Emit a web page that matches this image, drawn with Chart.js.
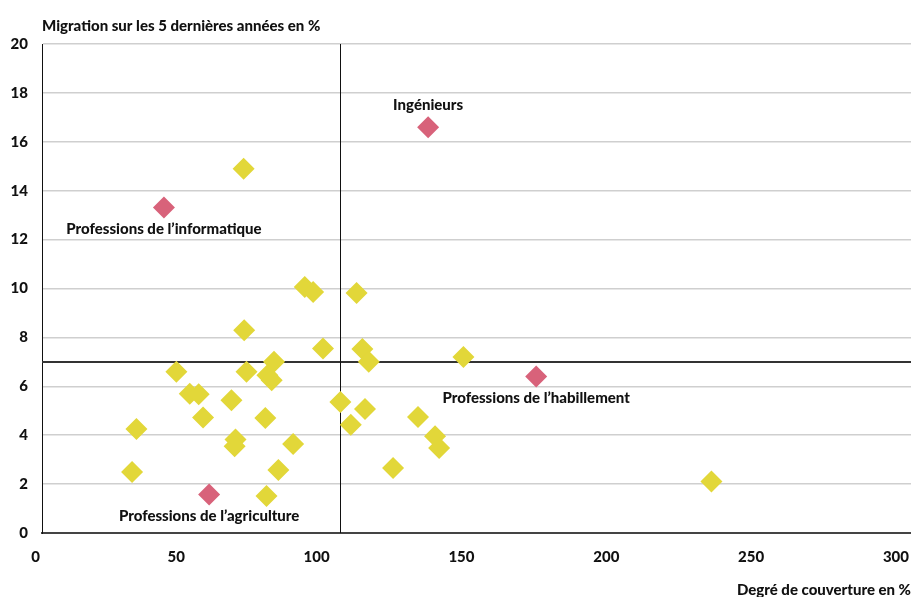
<!DOCTYPE html>
<html>
<head>
<meta charset="utf-8">
<script src="https://cdn.jsdelivr.net/npm/chart.js@4.4.1/dist/chart.umd.min.js"></script>
<style>
  html, body { margin: 0; padding: 0; background: #fff; overflow: hidden; }
  #wrap { width: 911px; height: 597px; }
</style>
</head>
<body>
<div id="wrap"><canvas id="c"></canvas></div>
<script>
// ---- data ----
const yellowX = [69.6, 90.7, 93.6, 108.6, 69.8, 97.0, 110.6, 112.8, 145.5, 80.1, 46.4, 70.6, 77.8, 79.3, 51.0, 54.1, 65.4, 103.0, 111.5, 129.8, 55.6, 77.1, 106.6, 32.6, 66.8, 66.5, 86.7, 135.7, 137.1, 31.1, 81.6, 121.2, 77.5, 231.1];
const yellowY = [14.9, 10.06, 9.86, 9.82, 8.29, 7.55, 7.53, 7.0, 7.2, 7.0, 6.59, 6.59, 6.45, 6.25, 5.70, 5.67, 5.43, 5.36, 5.07, 4.74, 4.72, 4.70, 4.43, 4.25, 3.82, 3.55, 3.64, 3.96, 3.48, 2.50, 2.58, 2.66, 1.51, 2.11];
const redNames = ["Professions de l\u2019informatique", "Ingénieurs", "Professions de l\u2019habillement", "Professions de l\u2019agriculture"];
const redX = [42.1, 133.3, 170.6, 57.7];
const redY = [13.31, 16.6, 6.40, 1.57];
const xTicks = [0, 50, 100, 150, 200, 250, 300];
const yTicks = [0, 2, 4, 6, 8, 10, 12, 14, 16, 18, 20];
const refX = 103;   // vertical reference line (degré de couverture)
const refY = 7;     // horizontal reference line (migration)
const yTitle = "Migration sur les 5 dernières années en %";
const xTitle = "Degré de couverture en %";

// ---- styles ----
const FONT = "'Lato', sans-serif";
const WEIGHT = 900;
const labelSide = [1, -1, 1, 1]; // 1 = below point, -1 = above

const yellowPts = yellowX.map((x, i) => ({ x: x, y: yellowY[i] }));
const redPts = redX.map((x, i) => ({ x: x, y: redY[i] }));

const refLines = {
  id: 'refLines',
  beforeDatasetsDraw(chart) {
    const { ctx, chartArea: a, scales: { x, y } } = chart;
    ctx.save();
    const py = Math.round(y.getPixelForValue(refY));
    ctx.strokeStyle = '#333';
    ctx.lineWidth = 2;
    ctx.beginPath(); ctx.moveTo(a.left, py); ctx.lineTo(a.right, py); ctx.stroke();
    const px = Math.round(x.getPixelForValue(refX)) + 0.5;
    ctx.strokeStyle = '#111';
    ctx.lineWidth = 1;
    ctx.beginPath(); ctx.moveTo(px, a.top); ctx.lineTo(px, a.bottom); ctx.stroke();
    ctx.restore();
  }
};

const pointLabels = {
  id: 'pointLabels',
  afterDatasetsDraw(chart) {
    const { ctx } = chart;
    const meta = chart.getDatasetMeta(0);
    ctx.save();
    ctx.font = WEIGHT + " 15px " + FONT;
    ctx.fillStyle = '#111';
    ctx.textAlign = 'center';
    ctx.textBaseline = 'middle';
    meta.data.forEach((el, i) => {
      ctx.fillText(redNames[i], el.x, el.y + labelSide[i] * 22);
    });
    ctx.restore();
  }
};

new Chart(document.getElementById('c'), {
  type: 'scatter',
  data: {
    datasets: [
      { label: 'red', data: redPts, backgroundColor: '#d8627a', pointStyle: 'rectRot', pointRadius: 11, pointHoverRadius: 11, borderWidth: 0 },
      { label: 'yellow', data: yellowPts, backgroundColor: '#e2d739', pointStyle: 'rectRot', pointRadius: 11, pointHoverRadius: 11, borderWidth: 0 }
    ]
  },
  options: {
    responsive: true,
    maintainAspectRatio: false,
    animation: false,
    events: [],
    layout: { padding: 0, autoPadding: false },
    plugins: {
      legend: { display: false },
      tooltip: { enabled: false },
      title: {
        display: true,
        text: yTitle,
        align: 'start',
        fullSize: false,
        color: '#111',
        font: { family: FONT, size: 15, weight: WEIGHT },
        padding: { top: 17, bottom: 9 }
      }
    },
    scales: {
      x: {
        type: 'linear',
        min: 0, max: 300,
        afterBuildTicks(s) { s.ticks = xTicks.map(v => ({ value: v })); },
        afterFit(s) { s.height = 64; s.paddingLeft = 0; s.paddingRight = 0; },
        grid: { display: true, color: 'rgba(0,0,0,0)', drawOnChartArea: false, drawTicks: true, tickLength: 15, tickColor: 'rgba(0,0,0,0)' },
        border: { display: true, color: '#444', width: 2 },
        ticks: { align: 'end', padding: 0, labelOffset: -2, color: '#111', font: { family: FONT, size: 15, weight: WEIGHT } },
        title: { display: true, text: xTitle, align: 'end', color: '#111', font: { family: FONT, size: 15, weight: WEIGHT }, padding: { top: 14, bottom: -2 } }
      },
      y: {
        type: 'linear',
        min: 0, max: 20,
        afterBuildTicks(s) { s.ticks = yTicks.map(v => ({ value: v })); },
        afterFit(s) { s.width = 42; },
        grid: {
          drawTicks: false,
          color: (c) => c.tick && c.tick.value === 0 ? '#444' : '#cfcfcf',
          lineWidth: (c) => c.tick && c.tick.value === 0 ? 2 : 1.5
        },
        border: { display: true, color: '#111', width: 1 },
        ticks: { padding: 14, color: '#111', font: { family: FONT, size: 15, weight: WEIGHT } }
      }
    }
  },
  plugins: [refLines, pointLabels]
});
</script>
</body>
</html>
